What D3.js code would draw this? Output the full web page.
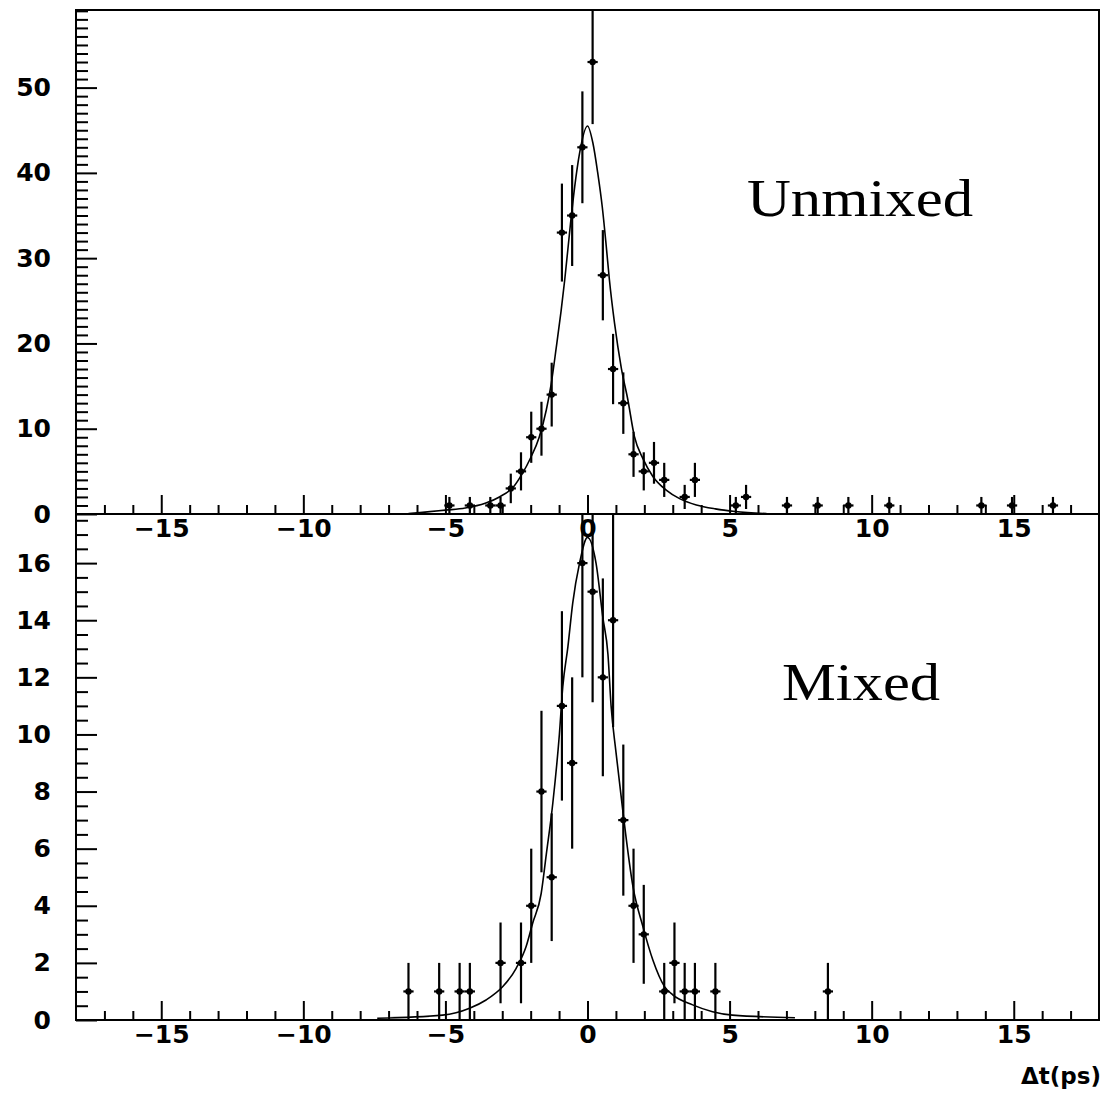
<!DOCTYPE html>
<html>
<head>
<meta charset="utf-8">
<script src="https://cdn.jsdelivr.net/npm/d3@7"></script>
<style>
  body { margin: 0; background: #fff; }
  .tick text { font-family: "DejaVu Sans", sans-serif; font-weight: bold; font-size: 25px; fill: #000; }
  .tick line { stroke: #000; stroke-width: 2; }
</style>
</head>
<body>
<div id="chart"></div>
<script>
// histogram bins (bin centres, counts)
var unmixedX = [-4.86, -4.14, -3.42, -3.06, -2.70, -2.34, -1.98, -1.62, -1.26, -0.90, -0.54, -0.18,
                0.18, 0.54, 0.90, 1.26, 1.62, 1.98, 2.34, 2.70, 3.42, 3.78, 5.22, 5.58,
                7.02, 8.10, 9.18, 10.62, 13.86, 14.94, 16.38];
var unmixedN = [1, 1, 1, 1, 3, 5, 9, 10, 14, 33, 35, 43,
                53, 28, 17, 13, 7, 5, 6, 4, 2, 4, 1, 2,
                1, 1, 1, 1, 1, 1, 1];

var mixedX = [-6.30, -5.22, -4.50, -4.14, -3.06, -2.34, -1.98, -1.62, -1.26, -0.90, -0.54, -0.18,
              0.18, 0.54, 0.90, 1.26, 1.62, 1.98, 2.70, 3.06, 3.42, 3.78, 4.50, 8.46];
var mixedN = [1, 1, 1, 1, 2, 2, 4, 8, 5, 11, 9, 16,
              15, 12, 14, 7, 4, 3, 1, 2, 1, 1, 1, 1];

// fitted curves, points
var unmixedFitX = [-6.3, -5.0, -4.3, -3.6, -3.1, -2.6, -2.3, -2.0, -1.7, -1.45, -1.28, -1.1, -0.93, -0.8,
                   -0.6, -0.45, -0.28, 0, 0.19, 0.36, 0.52, 0.66, 0.77, 0.95, 1.19, 1.42, 1.65, 1.95,
                   2.3, 2.77, 3.24, 3.83, 4.5, 5.2, 6.3];
var unmixedFitY = [0.05, 0.45, 0.7, 1.25, 2.0, 3.2, 4.7, 6.6, 9.0, 12.2, 15.2, 19.5, 23.8, 27.5,
                   34, 38.4, 42.3, 45.5, 43.5, 40, 36, 31.4, 27.5, 22.4, 17.1, 13.4, 9.1, 6.5,
                   4.4, 2.8, 1.8, 1.06, 0.6, 0.3, 0.05];

var mixedFitX = [-7.4, -5.1, -4.15, -3.57, -2.98, -2.51, -2.16, -1.93, -1.63, -1.45, -1.22, -0.99, -0.87,
                 -0.69, -0.52, -0.28, 0, 0.3, 0.54, 0.72, 0.83, 1.0, 1.24, 1.6, 1.95, 2.3, 2.71, 3.0,
                 3.7, 4.4, 5.1, 7.3];
var mixedFitY = [0.06, 0.17, 0.41, 0.7, 1.17, 1.81, 2.57, 3.39, 4.43, 5.8, 7.6, 10.0, 11.67,
                 13.07, 14.6, 16.0, 16.9, 16.0, 14.1, 12.8, 11.0, 9.4, 7.35, 4.67, 3.27, 2.1, 1.17, 0.88,
                 0.53, 0.29, 0.17, 0.08];

var xTicks = [-15, -10, -5, 0, 5, 10, 15];
var topTicks = [0, 10, 20, 30, 40, 50];
var bottomTicks = [0, 2, 4, 6, 8, 10, 12, 14, 16];

var binWidth = 0.36;

var svgWidth = 1112, svgHeight = 1094;
var frameLeft = 76, frameRight = 1099, frameTop = 10, frameMid = 514, frameBottom = 1020;

var svg = d3.select("#chart").append("svg")
    .attr("width", svgWidth)
    .attr("height", svgHeight)
    .style("background", "#fff");

var x = d3.scaleLinear().domain([-18, 18]).range([frameLeft, frameRight]);
var yTop = d3.scaleLinear().domain([0, 59.1]).range([frameMid, frameTop]);
var yBot = d3.scaleLinear().domain([0, 17.72]).range([frameBottom, frameMid]);

// clip paths so error bars stop at the frame
var defs = svg.append("defs");
defs.append("clipPath").attr("id", "clipTop").append("rect")
    .attr("x", frameLeft).attr("y", frameTop)
    .attr("width", frameRight - frameLeft).attr("height", frameMid - frameTop);
defs.append("clipPath").attr("id", "clipBot").append("rect")
    .attr("x", frameLeft).attr("y", frameMid)
    .attr("width", frameRight - frameLeft).attr("height", frameBottom - frameMid);

function drawPanel(y, xs, ns, fitX, fitY, clipId, majorY, minorStep, yMax, label, labelPos) {
    // y axis, ticks pointing in
    var minorVals = d3.range(0, yMax, minorStep).filter(v => majorY.indexOf(v) < 0);
    svg.append("g")
        .attr("transform", `translate(${frameLeft},0)`)
        .call(d3.axisLeft(y).tickValues(minorVals).tickSize(-12).tickFormat(""))
        .call(g => g.select(".domain").remove());
    svg.append("g")
        .attr("transform", `translate(${frameLeft},0)`)
        .call(d3.axisLeft(y).tickValues(majorY).tickSize(-21).tickPadding(25).tickFormat(d3.format("d")))
        .call(g => g.select(".domain").remove());

    // x axis at the bottom of the panel, ticks pointing up
    var xMinor = d3.range(-17, 18, 1).filter(v => xTicks.indexOf(v) < 0);
    svg.append("g")
        .attr("transform", `translate(0,${y(0)})`)
        .call(d3.axisBottom(x).tickValues(xMinor).tickSize(-9).tickFormat(""))
        .call(g => g.select(".domain").remove());
    svg.append("g")
        .attr("transform", `translate(0,${y(0)})`)
        .call(d3.axisBottom(x).tickValues(xTicks).tickSize(-19).tickPadding(5)
            .tickFormat(d => d < 0 ? "\u2212" + Math.abs(d) : d))
        .call(g => g.select(".domain").remove());

    var plot = svg.append("g").attr("clip-path", `url(#${clipId})`);

    // fit curve
    var line = d3.line()
        .x((d, i) => x(fitX[i]))
        .y(d => y(d))
        .curve(d3.curveMonotoneX);
    plot.append("path")
        .attr("d", line(fitY))
        .attr("fill", "none")
        .attr("stroke", "#000")
        .attr("stroke-width", 1.6);

    // data points with errors
    var pts = plot.selectAll(".pt")
        .data(xs.map((v, i) => ({x: v, n: ns[i]})))
        .enter().append("g");

    pts.append("line")
        .attr("x1", d => x(d.x)).attr("x2", d => x(d.x))
        .attr("y1", d => y(d.n - Math.sqrt(d.n)))
        .attr("y2", d => y(d.n + Math.sqrt(d.n)))
        .attr("stroke", "#000").attr("stroke-width", 2.2);
    pts.append("line")
        .attr("x1", d => x(d.x - binWidth / 2)).attr("x2", d => x(d.x + binWidth / 2))
        .attr("y1", d => y(d.n)).attr("y2", d => y(d.n))
        .attr("stroke", "#000").attr("stroke-width", 2.2);
    pts.append("circle")
        .attr("cx", d => x(d.x)).attr("cy", d => y(d.n))
        .attr("r", 3.2).attr("fill", "#000");

    svg.append("text")
        .attr("x", labelPos[0]).attr("y", labelPos[1])
        .attr("textLength", labelPos[2])
        .attr("lengthAdjust", "spacingAndGlyphs")
        .style("font-family", "'Liberation Serif', 'Times New Roman', serif")
        .style("font-size", "52px")
        .text(label);
}

drawPanel(yTop, unmixedX, unmixedN, unmixedFitX, unmixedFitY, "clipTop", topTicks, 1, 59.1,
    "Unmixed", [747, 216, 226]);
drawPanel(yBot, mixedX, mixedN, mixedFitX, mixedFitY, "clipBot", bottomTicks, 0.5, 17.72,
    "Mixed", [782, 700, 158]);

// frames
svg.append("rect")
    .attr("x", frameLeft).attr("y", frameTop)
    .attr("width", frameRight - frameLeft).attr("height", frameMid - frameTop)
    .attr("fill", "none").attr("stroke", "#000").attr("stroke-width", 2);
svg.append("rect")
    .attr("x", frameLeft).attr("y", frameMid)
    .attr("width", frameRight - frameLeft).attr("height", frameBottom - frameMid)
    .attr("fill", "none").attr("stroke", "#000").attr("stroke-width", 2);

// axis title
svg.append("text")
    .attr("x", 1101).attr("y", 1084)
    .attr("text-anchor", "end")
    .style("font-family", "'DejaVu Sans', sans-serif")
    .style("font-weight", "bold")
    .style("font-size", "23px")
    .text("\u0394t(ps)");
</script>
</body>
</html>
